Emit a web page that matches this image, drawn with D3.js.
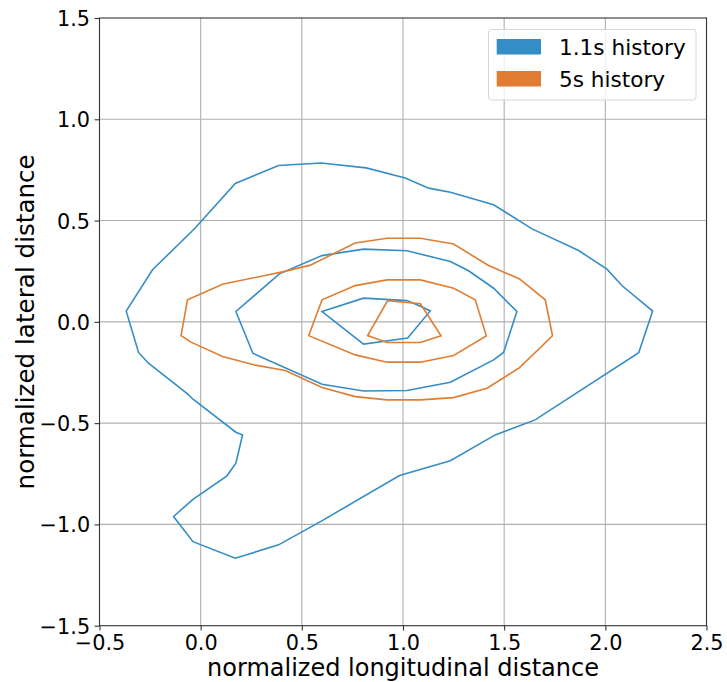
<!DOCTYPE html>
<html>
<head>
<meta charset="utf-8">
<script src="https://cdn.jsdelivr.net/npm/d3@7"></script>
<style>
  body { margin: 0; background: #fff; }
  text { font-family: "DejaVu Sans", sans-serif; fill: #000; }
</style>
</head>
<body>
<script>
// contour levels, [longitudinal, lateral] vertices
var blueOuter = [[-0.368,0.053],[-0.307,-0.151],[-0.258,-0.204],[-0.065,-0.356],[-0.038,-0.382],[0.174,-0.545],[0.207,-0.558],
  [0.174,-0.698],[0.13,-0.76],[-0.038,-0.876],[-0.134,-0.961],[-0.038,-1.085],[0.171,-1.167],[0.385,-1.101],[0.592,-0.986],
  [0.983,-0.759],[1.234,-0.686],[1.456,-0.558],[1.653,-0.484],[2.165,-0.152],[2.234,0.053],[2.083,0.178],[2.008,0.26],
  [1.868,0.352],[1.638,0.459],[1.448,0.578],[1.234,0.64],[1.127,0.66],[1.011,0.71],[0.818,0.76],[0.596,0.784],[0.385,0.772],
  [0.171,0.683],[-0.027,0.463],[-0.238,0.257]];
var blueMid = [[0.174,0.051],[0.389,0.237],[0.6,0.327],[0.805,0.359],[1.02,0.351],[1.234,0.298],[1.324,0.252],[1.448,0.166],
  [1.563,0.051],[1.497,-0.151],[1.448,-0.188],[1.234,-0.298],[1.02,-0.339],[0.805,-0.341],[0.6,-0.308],[0.258,-0.155]];
var blueInner = [[0.6,0.051],[0.805,0.117],[1.02,0.105],[1.094,0.073],[1.135,0.054],[1.023,-0.08],[0.805,-0.11]];

var orangeOuter = [[-0.097,-0.068],[-0.065,0.109],[0.108,0.186],[0.41,0.248],[0.542,0.28],[0.764,0.389],[0.921,0.413],
  [1.086,0.413],[1.25,0.384],[1.423,0.278],[1.576,0.212],[1.703,0.109],[1.739,-0.069],[1.576,-0.226],[1.415,-0.328],
  [1.25,-0.374],[1.086,-0.385],[0.921,-0.385],[0.764,-0.369],[0.6,-0.324],[0.418,-0.24],[0.262,-0.212],[0.108,-0.171],[-0.048,-0.1]];
var orangeMid = [[0.534,-0.068],[0.6,0.109],[0.764,0.179],[0.921,0.207],[1.086,0.207],[1.25,0.166],[1.357,0.109],
  [1.412,-0.069],[1.25,-0.166],[1.086,-0.199],[0.921,-0.199],[0.764,-0.163]];
var orangeInner = [[0.924,0.105],[1.086,0.089],[1.188,-0.069],[1.086,-0.102],[0.921,-0.102],[0.825,-0.068]];

var seriesNames = ["1.1s history", "5s history"];
var seriesColors = ["#358dc6", "#e07d32"];
var xTicks = [-0.5, 0.0, 0.5, 1.0, 1.5, 2.0, 2.5];
var yTicks = [-1.5, -1.0, -0.5, 0.0, 0.5, 1.0, 1.5];

var W = 727, H = 682;
var margin = {left: 99.5, top: 18, right: 20.5, bottom: 56.3};

var svg = d3.select("body").append("svg").attr("width", W).attr("height", H);

var x = d3.scaleLinear().domain([-0.5, 2.5]).range([margin.left, W - margin.right]);
var y = d3.scaleLinear().domain([-1.5, 1.5]).range([H - margin.bottom, margin.top]);

function fmt(v) { return d3.format(".1f")(v).replace("-", "\u2212"); }

// grid
svg.append("g").selectAll("line").data(xTicks.slice(1, -1)).enter().append("line")
  .attr("x1", function(d) { return x(d); }).attr("x2", function(d) { return x(d); })
  .attr("y1", y(-1.5)).attr("y2", y(1.5))
  .attr("stroke", "#b0b0b0").attr("stroke-width", 1.1);
svg.append("g").selectAll("line").data(yTicks.slice(1, -1)).enter().append("line")
  .attr("y1", function(d) { return y(d); }).attr("y2", function(d) { return y(d); })
  .attr("x1", x(-0.5)).attr("x2", x(2.5))
  .attr("stroke", "#b0b0b0").attr("stroke-width", 1.1);

// contours
var line = d3.line().x(function(d) { return x(d[0]); }).y(function(d) { return y(d[1]); })
  .curve(d3.curveLinearClosed);
var contours = [
  {pts: blueOuter, c: 0}, {pts: blueMid, c: 0}, {pts: blueInner, c: 0},
  {pts: orangeOuter, c: 1}, {pts: orangeMid, c: 1}, {pts: orangeInner, c: 1}
];
svg.append("g").selectAll("path").data(contours).enter().append("path")
  .attr("d", function(d) { return line(d.pts); })
  .attr("fill", "none")
  .attr("stroke", function(d) { return seriesColors[d.c]; })
  .attr("stroke-width", 1.6)
  .attr("stroke-linejoin", "miter");

// axes
var xAxis = d3.axisBottom(x).tickValues(xTicks).tickFormat(fmt).tickSize(4.9).tickPadding(4);
var yAxis = d3.axisLeft(y).tickValues(yTicks).tickFormat(fmt).tickSize(4.9).tickPadding(4.5);
var gx = svg.append("g").attr("transform", "translate(0," + y(-1.5) + ")").call(xAxis);
var gy = svg.append("g").attr("transform", "translate(" + x(-0.5) + ",0)").call(yAxis);
[gx, gy].forEach(function(g) {
  g.select(".domain").remove();
  g.selectAll("line").attr("stroke", "#333").attr("stroke-width", 1.1);
  g.selectAll("text").style("font-family", "DejaVu Sans").style("font-size", "20.8px").attr("fill", "#000");
});
gx.selectAll("text").attr("dy", null).attr("y", 0).attr("dominant-baseline", null)
  .attr("transform", "translate(0,24.5)");
gy.selectAll("text").attr("dy", "0.36em");

// frame
svg.append("rect").attr("x", x(-0.5)).attr("y", y(1.5))
  .attr("width", x(2.5) - x(-0.5)).attr("height", y(-1.5) - y(1.5))
  .attr("fill", "none").attr("stroke", "#333").attr("stroke-width", 1.1);

// axis labels
svg.append("text").attr("x", (x(-0.5) + x(2.5)) / 2).attr("y", 676)
  .attr("text-anchor", "middle").style("font-size", "24px")
  .text("normalized longitudinal distance");
svg.append("text").attr("transform", "translate(34," + (y(-1.5) + y(1.5)) / 2 + ") rotate(-90)")
  .attr("text-anchor", "middle").style("font-size", "24.6px")
  .text("normalized lateral distance");

// legend
var lg = svg.append("g");
lg.append("rect").attr("x", 488.5).attr("y", 29.5).attr("width", 207.5).attr("height", 70.5)
  .attr("rx", 3).attr("fill", "#fff").attr("fill-opacity", 0.8)
  .attr("stroke", "#d6d6d6").attr("stroke-width", 1);
var items = lg.selectAll("g.item").data(seriesNames).enter().append("g")
  .attr("transform", function(d, i) { return "translate(0," + (i * 32) + ")"; });
items.append("rect").attr("x", 496.7).attr("y", 39).attr("width", 44.3).attr("height", 15.5)
  .attr("fill", function(d, i) { return seriesColors[i]; });
items.append("text").attr("x", 559).attr("y", 54.5).style("font-size", "21.6px")
  .text(function(d) { return d; });
</script>
</body>
</html>
